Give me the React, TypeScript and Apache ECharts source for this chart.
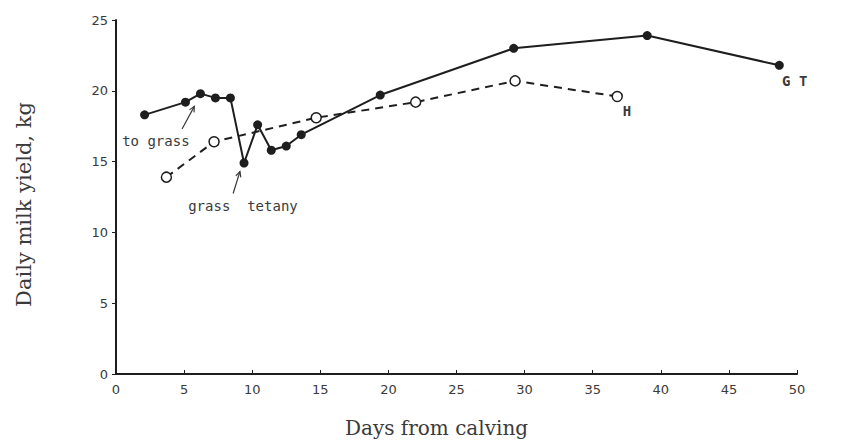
import React, { useEffect, useRef } from "react";
import * as echarts from "echarts";

const solidDays = [2.1, 5.1, 6.2, 7.3, 8.4, 9.4, 10.4, 11.4, 12.5, 13.6, 19.4, 29.2, 39.0, 48.7];
const solidYield = [18.3, 19.2, 19.8, 19.5, 19.5, 14.9, 17.6, 15.8, 16.1, 16.9, 19.7, 23.0, 23.9, 21.8];
const hollowDays = [3.7, 7.2, 14.7, 22.0, 29.3, 36.8];
const hollowYield = [13.9, 16.4, 18.1, 19.2, 20.7, 19.6];

const xTicks = [0, 5, 10, 15, 20, 25, 30, 35, 40, 45, 50];
const yTicks = [0, 5, 10, 15, 20, 25];

// annotations in data coordinates
const textNotes = [
  { text: "to grass", x: 0.45, y: 16.45, bold: false },
  { text: "grass  tetany", x: 5.3, y: 11.85, bold: false },
  { text: "G T", x: 48.9, y: 20.68, bold: true },
  { text: "H", x: 37.2, y: 18.54, bold: true },
];
const arrowNotes = [
  { from: [4.85, 17.3], to: [5.75, 18.9] },
  { from: [8.6, 12.75], to: [9.1, 14.3] },
];

const INK = "#1e1e1e";
const TEXT = "#3a3a3a";

export default function App() {
  const ref = useRef<HTMLDivElement>(null);
  useEffect(() => {
    document.body.style.margin = "0";
    const chart = echarts.init(ref.current!, null, { renderer: "svg" });
    const option: any = {
      animation: false,
      backgroundColor: "#ffffff",
      grid: { left: 116, right: 44, top: 20, bottom: 66 },
      xAxis: {
        type: "value",
        min: 0,
        max: 50,
        interval: 5,
        name: "Days from calving",
        nameLocation: "middle",
        nameGap: 44,
        nameTextStyle: { fontFamily: "DejaVu Serif", fontSize: 20, color: TEXT, padding: [0, 40, 0, 0] },
        axisLine: { onZero: false, lineStyle: { color: INK, width: 2 } },
        axisTick: { show: true, inside: true, length: 4, lineStyle: { color: INK, width: 1 } },
        axisLabel: { color: TEXT, fontFamily: "DejaVu Sans", fontSize: 13, margin: 9, formatter: (v: number) => (xTicks.includes(v) ? String(v) : "") },
        splitLine: { show: false },
      },
      yAxis: {
        type: "value",
        min: 0,
        max: 25,
        interval: 5,
        name: "Daily milk yield, kg",
        nameLocation: "middle",
        nameGap: 82,
        nameTextStyle: { fontFamily: "DejaVu Serif", fontSize: 21, color: TEXT, padding: [0, 15, 0, 0] },
        axisLine: { show: true, onZero: false, lineStyle: { color: INK, width: 2 } },
        axisTick: { show: true, length: 4, lineStyle: { color: INK, width: 1 } },
        axisLabel: { color: TEXT, fontFamily: "DejaVu Sans", fontSize: 13, margin: 8, formatter: (v: number) => (yTicks.includes(v) ? String(v) : "") },
        splitLine: { show: false },
      },
      series: [
        {
          type: "line",
          data: solidDays.map((d, i) => [d, solidYield[i]]),
          symbol: "circle",
          symbolSize: 9,
          itemStyle: { color: INK },
          lineStyle: { color: INK, width: 2 },
          z: 3,
        },
        {
          type: "line",
          data: hollowDays.map((d, i) => [d, hollowYield[i]]),
          symbol: "circle",
          symbolSize: 10,
          itemStyle: { color: "#ffffff", borderColor: INK, borderWidth: 1.5 },
          lineStyle: { color: INK, width: 2, type: [8, 6] },
          z: 2,
        },
      ],
    };
    chart.setOption(option);

    const px = (p: number[]) => chart.convertToPixel({ gridIndex: 0 }, p) as number[];
    const graphics: any[] = [];
    textNotes.forEach((n) => {
      const [x, y] = px([n.x, n.y]);
      graphics.push({
        type: "text",
        x,
        y,
        style: {
          text: n.text,
          fill: TEXT,
          font: `${n.bold ? "bold " : ""}14px "DejaVu Sans Mono"`,
          verticalAlign: "middle",
          align: "left",
        },
      });
    });
    arrowNotes.forEach((a) => {
      const [x1, y1] = px(a.from);
      const [x2, y2] = px(a.to);
      const ang = Math.atan2(y2 - y1, x2 - x1);
      const hl = 6;
      const hw = 0.45;
      graphics.push({
        type: "line",
        shape: { x1, y1, x2, y2 },
        style: { stroke: TEXT, lineWidth: 1.2 },
      });
      graphics.push({
        type: "polyline",
        shape: {
          points: [
            [x2 - hl * Math.cos(ang - hw), y2 - hl * Math.sin(ang - hw)],
            [x2, y2],
            [x2 - hl * Math.cos(ang + hw), y2 - hl * Math.sin(ang + hw)],
          ],
        },
        style: { stroke: TEXT, lineWidth: 1.2, fill: "none" },
      });
    });
    chart.setOption({ graphic: graphics });

    return () => chart.dispose();
  }, []);
  return <div ref={ref} style={{ width: 841, height: 443 }} />;
}
